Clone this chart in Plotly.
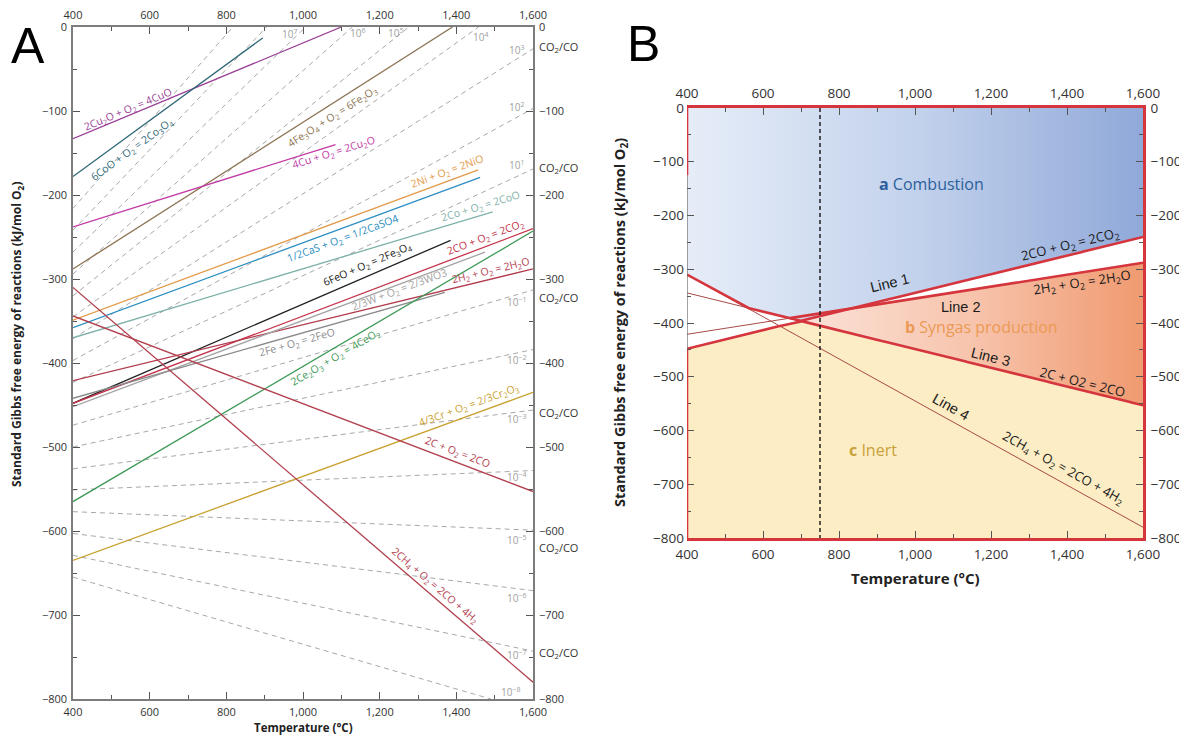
import numpy as np
import plotly.graph_objects as go

# ---------------- Panel A data ----------------
rxn_labels = [
    "2Cu<sub>2</sub>O + O<sub>2</sub> = 4CuO",
    "6CoO + O<sub>2</sub> = 2Co<sub>3</sub>O<sub>4</sub>",
    "4Fe<sub>3</sub>O<sub>4</sub> + O<sub>2</sub> = 6Fe<sub>2</sub>O<sub>3</sub>",
    "4Cu + O<sub>2</sub> = 2Cu<sub>2</sub>O",
    "2Ni + O<sub>2</sub> = 2NiO",
    "1/2CaS + O<sub>2</sub> = 1/2CaSO4",
    "2Co + O<sub>2</sub> = 2CoO",
    "6FeO + O<sub>2</sub> = 2Fe<sub>3</sub>O<sub>4</sub>",
    "2CO + O<sub>2</sub> = 2CO<sub>2</sub>",
    "2H<sub>2</sub> + O<sub>2</sub> = 2H<sub>2</sub>O",
    "2/3W + O<sub>2</sub> = 2/3WO3",
    "2Fe + O<sub>2</sub> = 2FeO",
    "2Ce<sub>2</sub>O<sub>3</sub> + O<sub>2</sub> = 4CeO<sub>2</sub>",
    "4/3Cr + O<sub>2</sub> = 2/3Cr<sub>2</sub>O<sub>3</sub>",
    "2C + O<sub>2</sub> = 2CO",
    "2CH<sub>4</sub> + O<sub>2</sub> = 2CO + 4H<sub>2</sub>",
]
rxn_T_start = [400, 400, 400, 400, 400, 400, 400, 400, 400, 400, 400, 400, 400, 400, 400, 400]
rxn_G_start = [-133, -178, -288, -238, -349, -358, -370, -448, -448, -421, -452, -442, -565, -635, -344, -310]
rxn_T_end = [1100, 895, 1390, 1085, 1457, 1462, 1495, 1385, 1600, 1600, 1475, 1370, 1600, 1600, 1600, 1600]
rxn_G_end = [0, -13, 0, -140, -170, -179, -220, -254, -240, -288, -268, -316, -243, -435, -553, -780]

# CO2/CO ratio iso-lines (dashed): exponent, value at 400 C, end point
ratio_exp = [9, 8, 7, 6, 5, 4, 3, 2, 1, -1, -2, -3, -4, -5, -6, -7, -8]
ratio_G_start = [-216, -242, -268, -294, -320, -345, -371, -397, -423,
                 -474, -500, -526, -551, -577, -603, -629, -655]
ratio_T_end = [817, 905, 1007, 1129, 1276, 1458, 1600, 1600, 1600,
               1600, 1600, 1600, 1600, 1600, 1600, 1600, 1490]
ratio_G_end = [0, 0, 0, 0, 0, 0, -26, -97, -169,
               -313, -384, -456, -528, -599, -671, -743, -800]
ratio_tag_exp = [7, 6, 5, 4, 3, 2, 1, -1, -2, -3, -4, -5, -6, -7, -8]
co2co_tag_count = 6

# ---------------- Panel B data ----------------
B_idx = {"Line 1": 8, "Line 2": 9, "Line 3": 14, "Line 4": 15}
optimal_T = 750

# ---------------- styles / placement ----------------
rxn_colors = ["#9a3f96", "#2f6877", "#8c7352", "#c23aa6", "#e39a4a", "#2a8dc2",
              "#7fb1a9", "#222222", "#c4344c", "#b23c4e", "#a3a3a3", "#8a8a8a",
              "#3f9a58", "#c9a232", "#b2404f", "#b2404f"]
rxn_label_T = [543, 554, 1078, 1080, 1376, 1104, 1462, 1167, 1475, 1490, 1253, 985, 1084, 1431, 1404, 1344]
rxn_label_G = [-98, -146, -107, -150, -172, -252, -214, -283, -251, -290, -312, -376, -394, -450, -507, -665]
ratio_tag_T = [966, 1143, 1240, 1462, 1558, 1558, 1558, 1558, 1558, 1558, 1558, 1558, 1558, 1558, 1540]
ratio_tag_G = [-8, -7, -7, -12, -27, -95, -164, -327, -396, -467, -536, -611, -680, -748, -792]
co2co_tag_G = [-24, -168, -323, -460, -620, -745]

W, H = 1187, 738
OFF = 8  # page body margin of the rendered HTML
A_px = dict(x0=73, x1=533, y0=27, y1=699)
B_px = dict(x0=687, x1=1143, y0=108, y1=538)


def px_x(px):
    return (px - OFF) / W


def px_y(py):
    return (H - (py - OFF)) / H


def dom(p):
    return [px_x(p["x0"]), px_x(p["x1"])], [px_y(p["y1"]), px_y(p["y0"])]


def angle(t0, g0, t1, g1, p):
    sx = (p["x1"] - p["x0"]) / 1200.0
    sy = (p["y1"] - p["y0"]) / 800.0
    return -np.degrees(np.arctan((g1 - g0) / (t1 - t0) * sy / sx))


fig = go.Figure()

# ---- Panel A dashed ratio lines (base axes) ----
for i in range(len(ratio_exp)):
    fig.add_trace(go.Scatter(x=[400, ratio_T_end[i]], y=[ratio_G_start[i], ratio_G_end[i]],
                             mode="lines", line=dict(color="#a8a8a8", width=1, dash="5px,4px"),
                             xaxis="x", yaxis="y", showlegend=False, hoverinfo="skip"))
# ---- Panel A reaction lines (overlay axes) ----
for i in range(len(rxn_labels)):
    fig.add_trace(go.Scatter(x=[rxn_T_start[i], rxn_T_end[i]], y=[rxn_G_start[i], rxn_G_end[i]],
                             mode="lines", line=dict(color=rxn_colors[i], width=1.3),
                             xaxis="x2", yaxis="y2", showlegend=False, hoverinfo="skip"))

# ---- Panel B regions ----
Tg = np.linspace(400, 1600, 1201)


def lineB(name):
    i = B_idx[name]
    return np.interp(Tg, [rxn_T_start[i], rxn_T_end[i]], [rxn_G_start[i], rxn_G_end[i]])


L1, L2, L3, L4 = lineB("Line 1"), lineB("Line 2"), lineB("Line 3"), lineB("Line 4")
upper = np.maximum.reduce([L1, L3, L4])
inert_top = np.minimum(L1, L3)
syn_top = np.minimum(L1, L2)
syn_mask = syn_top > L3

# combustion (blue)
fig.add_trace(go.Scatter(x=np.concatenate([Tg, [1600, 400]]), y=np.concatenate([upper, [0, 0]]),
                         fill="toself", mode="lines", line=dict(width=0),
                         fillgradient=dict(type="horizontal",
                                           colorscale=[[0, "#e6edf8"], [0.5, "#c3d2ec"], [1, "#90a9d9"]]),
                         xaxis="x3", yaxis="y3", showlegend=False, hoverinfo="skip"))
# syngas (orange)
Ts = Tg[syn_mask]
fig.add_trace(go.Scatter(x=np.concatenate([Ts, Ts[::-1]]),
                         y=np.concatenate([syn_top[syn_mask], L3[syn_mask][::-1]]),
                         fill="toself", mode="lines", line=dict(width=0),
                         fillgradient=dict(type="horizontal",
                                           colorscale=[[0, "#fbe2d8"], [0.5, "#f7c4ac"], [1, "#f09a70"]]),
                         xaxis="x3", yaxis="y3", showlegend=False, hoverinfo="skip"))
# inert (yellow)
fig.add_trace(go.Scatter(x=np.concatenate([Tg, [1600, 400]]), y=np.concatenate([inert_top, [-800, -800]]),
                         fill="toself", mode="lines", line=dict(width=0), fillcolor="#fdedc4",
                         xaxis="x3", yaxis="y3", showlegend=False, hoverinfo="skip"))
# thin reaction lines
for Lk in (L1, L2, L3, L4):
    fig.add_trace(go.Scatter(x=Tg, y=Lk, mode="lines", line=dict(color="#a64b48", width=1),
                             xaxis="x3", yaxis="y3", showlegend=False, hoverinfo="skip"))
# thick boundaries
thick = dict(color="#d5353d", width=2.6)
for yy in (upper, inert_top, np.where(L2 > L3, L2, np.nan)):
    fig.add_trace(go.Scatter(x=Tg, y=yy, mode="lines", line=thick, connectgaps=False,
                             xaxis="x3", yaxis="y3", showlegend=False, hoverinfo="skip"))
# optimal temperature dashed line (overlay axes)
fig.add_trace(go.Scatter(x=[optimal_T, optimal_T], y=[0, -800], mode="lines",
                         line=dict(color="#222222", width=1.5, dash="4px,3px"),
                         xaxis="x4", yaxis="y4", showlegend=False, hoverinfo="skip"))

# ---- axes ----
dxA, dyA = dom(A_px)
dxB, dyB = dom(B_px)
tickfontA = dict(family="Open Sans", size=11, color="#333333")
tickfontB = dict(family="Open Sans", size=13.5, color="#333333")


def xax(domain, anchor, side, tf, lc, lw, overlay=None):
    d = dict(domain=domain, anchor=anchor, side=side, range=[400, 1600], dtick=200,
             tickformat=",", ticks="inside", ticklen=7, tickcolor="#555555", tickwidth=1.2,
             minor=dict(ticks="inside", dtick=100, ticklen=4, tickcolor="#555555"),
             showline=True, linecolor=lc, linewidth=lw, showgrid=False, zeroline=False,
             tickfont=tf, ticklabelstandoff=2, automargin=False)
    if overlay:
        d["overlaying"] = overlay
    return d


def yax(domain, anchor, side, tf, lc, lw, overlay=None, showline=True):
    d = dict(domain=domain, anchor=anchor, side=side, range=[-800, 0], dtick=100,
             ticks="inside", ticklen=7, tickcolor="#555555", tickwidth=1.2,
             minor=dict(ticks="inside", dtick=50, ticklen=4, tickcolor="#555555"),
             showline=showline, linecolor=lc, linewidth=lw, showgrid=False, zeroline=False,
             tickfont=tf, ticklabelstandoff=2, automargin=False)
    if overlay:
        d["overlaying"] = overlay
    return d


gA = "#7d7d7d"
red = "#d5353d"
fig.update_layout(
    width=W, height=H, margin=dict(l=0, r=0, t=0, b=0, autoexpand=False),
    paper_bgcolor="white", plot_bgcolor="rgba(0,0,0,0)",
    font=dict(family="Open Sans", color="#333333"),
    xaxis=xax(dxA, "y", "bottom", tickfontA, gA, 1.5),
    xaxis2=xax(dxA, "y", "top", tickfontA, gA, 1.5, overlay="x"),
    yaxis=yax(dyA, "x", "left", tickfontA, gA, 1.5),
    yaxis2=yax(dyA, "x", "right", tickfontA, gA, 1.5, overlay="y"),
    xaxis3=xax(dxB, "y3", "bottom", tickfontB, red, 2.6),
    xaxis4=xax(dxB, "y3", "top", tickfontB, red, 2.6, overlay="x3"),
    yaxis3=yax(dyB, "x3", "left", tickfontB, red, 2.6, showline=False),
    yaxis4=yax(dyB, "x3", "right", tickfontB, red, 2.6, overlay="y3"),
)

# left border of panel B (red except in white gap)
for (g0, g1, c, w) in [(0, -125, red, 2.6), (-125, -450, "#666666", 1.2), (-450, -800, red, 2.6)]:
    fig.add_shape(type="line", xref="x3", yref="y3", x0=400, x1=400, y0=g0, y1=g1,
                  line=dict(color=c, width=w))

ann = []
# Panel A reaction labels
for i in range(len(rxn_labels)):
    ang = angle(rxn_T_start[i], rxn_G_start[i], rxn_T_end[i], rxn_G_end[i], A_px)
    ann.append(dict(x=rxn_label_T[i], y=rxn_label_G[i], xref="x", yref="y", text=rxn_labels[i],
                    showarrow=False, textangle=ang, font=dict(size=10.5, color=rxn_colors[i])))
# ratio tags
for i, e in enumerate(ratio_tag_exp):
    ann.append(dict(x=ratio_tag_T[i], y=ratio_tag_G[i], xref="x", yref="y",
                    text="10<sup>%s</sup>" % (str(e) if e > 0 else "\u2212" + str(-e)),
                    showarrow=False, font=dict(size=10, color="#a0a0a0")))
for g in co2co_tag_G[:co2co_tag_count]:
    ann.append(dict(x=px_x(558), y=g, xref="paper", yref="y", text="CO<sub>2</sub>/CO",
                    xanchor="center", yanchor="middle",
                    showarrow=False, font=dict(size=11, color="#333333")))


def pann(px, py, text, size, angle_=0, family="Open Sans", color="#222222"):
    ann.append(dict(x=px_x(px), y=px_y(py), xref="paper", yref="paper", text=text, textangle=angle_,
                    xanchor="center", yanchor="middle", showarrow=False,
                    font=dict(family=family, size=size, color=color)))


# axis titles
pann(17, 335, "<b>Standard Gibbs free energy of reactions (kJ/mol O<sub>2</sub>)</b>", 12, -90)
pann(303, 727, "<b>Temperature (\u00b0C)</b>", 11.5)
pann(620, 322, "<b>Standard Gibbs free energy of reactions (kJ/mol O<sub>2</sub>)</b>", 14.5, -90)
pann(915, 578, "<b>Temperature (\u00b0C)</b>", 15)
# panel letters
pann(28, 46, "A", 50, family="Liberation Sans", color="#000000")
pann(643, 44, "B", 50, family="Liberation Sans", color="#000000")

# Panel B region labels
ann.append(dict(x=900, y=-141, xref="x3", yref="y3", xanchor="left", showarrow=False,
                text="<b>a</b> Combustion", font=dict(size=16, color="#2d5f9c")))
ann.append(dict(x=968, y=-407, xref="x3", yref="y3", xanchor="left", showarrow=False,
                text="<b>b</b> Syngas production", font=dict(size=16, color="#ec9a55")))
ann.append(dict(x=821, y=-636, xref="x3", yref="y3", xanchor="left", showarrow=False,
                text="<b>c</b> Inert", font=dict(size=16, color="#c9a03c")))


def angB(name):
    i = B_idx[name]
    return angle(rxn_T_start[i], rxn_G_start[i], rxn_T_end[i], rxn_G_end[i], B_px)


B_labels = [
    ("Line 1", 934, -326, "Line 1", "Liberation Sans", 14.5),
    ("Line 2", 1121, -370, "Line 2", "Liberation Sans", 14.5),
    ("Line 3", 1200, -463, "Line 3", "Liberation Sans", 14.5),
    ("Line 4", 1095, -557, "Line 4", "Liberation Sans", 14.5),
    ("Line 1", 1408, -255, "2CO + O<sub>2</sub> = 2CO<sub>2</sub>", "Open Sans", 13),
    ("Line 2", 1439, -326, "2H<sub>2</sub> + O<sub>2</sub> = 2H<sub>2</sub>O", "Open Sans", 13),
    ("Line 3", 1442, -510, "2C + O2 = 2CO", "Open Sans", 13),
    ("Line 4", 1389, -670, "2CH<sub>4</sub> + O<sub>2</sub> = 2CO + 4H<sub>2</sub>", "Open Sans", 13),
]
for (ln, t, g, txt, fam, sz) in B_labels:
    a = 0 if txt == "Line 2" else angB(ln)
    ann.append(dict(x=t, y=g, xref="x3", yref="y3", text=txt, showarrow=False, textangle=a,
                    font=dict(family=fam, size=sz, color="#1a1a1a")))

fig.update_layout(annotations=ann)
fig.write_html("out.html")
